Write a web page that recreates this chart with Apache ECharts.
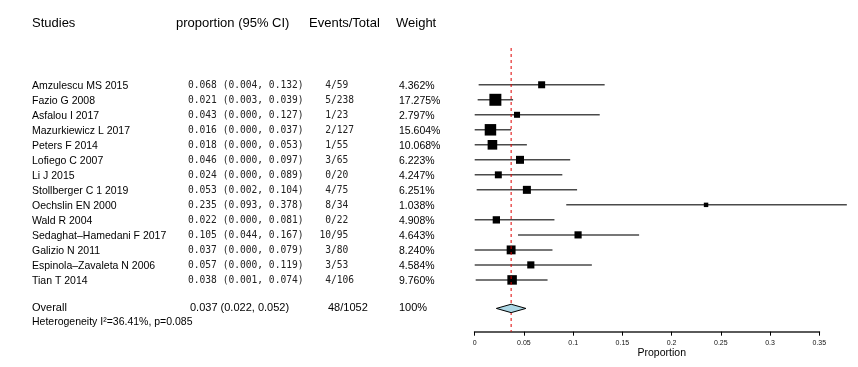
<!DOCTYPE html>
<html>
<head>
<meta charset="utf-8">
<script src="https://cdn.jsdelivr.net/npm/echarts@6/dist/echarts.min.js"></script>
<style>
  html, body { margin: 0; padding: 0; background: #ffffff; }
  #chart { width: 858px; height: 367px; }
</style>
</head>
<body>
<div id="chart"></div>
<script>
// Study-level results for the pooled proportion forest plot
const studies = [
  'Amzulescu MS 2015', 'Fazio G 2008', 'Asfalou I 2017', 'Mazurkiewicz L 2017',
  'Peters F 2014', 'Lofiego C 2007', 'Li J 2015', 'Stollberger C 1 2019',
  'Oechslin EN 2000', 'Wald R 2004', 'Sedaghat\u2013Hamedani F 2017', 'Galizio N 2011',
  'Espinola\u2013Zavaleta N 2006', 'Tian T 2014'
];
const proportion = [0.068, 0.021, 0.043, 0.016, 0.018, 0.046, 0.024, 0.053, 0.235, 0.022, 0.105, 0.037, 0.057, 0.038];
const ciLower    = [0.004, 0.003, 0.000, 0.000, 0.000, 0.000, 0.000, 0.002, 0.093, 0.000, 0.044, 0.000, 0.000, 0.001];
const ciUpper    = [0.132, 0.039, 0.127, 0.037, 0.053, 0.097, 0.089, 0.104, 0.378, 0.081, 0.167, 0.079, 0.119, 0.074];
const eventCounts = [4, 5, 1, 2, 1, 3, 0, 4, 8, 0, 10, 3, 3, 4];
const totals      = [59, 238, 23, 127, 55, 65, 20, 75, 34, 22, 95, 80, 53, 106];
const weights     = [4.362, 17.275, 2.797, 15.604, 10.068, 6.223, 4.247, 6.251, 1.038, 4.908, 4.643, 8.240, 4.584, 9.760];

// Pooled estimate and heterogeneity
const overallEstimate = [0.037];
const overallCI = [0.022, 0.052];
const overallCounts = [48, 1052];
const heterogeneity = ['36.41%', '0.085'];

// Axis tick values
const xTicks = [0, 0.05, 0.1, 0.15, 0.2, 0.25, 0.3, 0.35];

const chart = echarts.init(document.getElementById('chart'));

const SANS = '"Liberation Sans", Arial, sans-serif';
const MONO = '"DejaVu Sans Mono", monospace';
const COL = { name: 32, ci: 188, slash: 331, weight: 399 };
const overallRow = studies.length + 0.9;
const hetRow = studies.length + 1.8;

// Square side grows with the study weight
function boxSize(w) { return 2 + 2.4 * Math.sqrt(w); }

function txt(x, y, text, font, size, align, color) {
  return {
    type: 'text',
    style: {
      x: x, y: y, text: text,
      fontFamily: font, fontSize: size,
      fill: color || '#000',
      align: align || 'left', verticalAlign: 'middle'
    }
  };
}

function renderStudy(params, api) {
  const i = api.value(0);
  const p = api.value(1), lo = api.value(2), hi = api.value(3), w = api.value(4);
  const y = api.coord([0, i])[1];
  const xL = api.coord([lo, i])[0];
  const xR = api.coord([hi, i])[0];
  const xP = api.coord([p, i])[0];
  const s = boxSize(w);
  const ciText = p.toFixed(3) + ' (' + lo.toFixed(3) + ', ' + hi.toFixed(3) + ')';
  return {
    type: 'group',
    children: [
      { type: 'line', shape: { x1: xL, y1: y, x2: xR, y2: y }, style: { stroke: '#4a4a4a', lineWidth: 1.5 } },
      { type: 'rect', shape: { x: xP - s / 2, y: y - s / 2, width: s, height: s }, style: { fill: '#000' } },
      txt(COL.name, y + 1, studies[i], SANS, 10.5),
      txt(COL.ci, y + 1, ciText, MONO, 9.6, 'left', '#222'),
      txt(COL.slash, y + 1, String(eventCounts[i]), MONO, 9.6, 'right', '#222'),
      txt(COL.slash, y + 1, '/' + totals[i], MONO, 9.6, 'left', '#222'),
      txt(COL.weight, y + 1, w.toFixed(3) + '%', SANS, 10.5)
    ]
  };
}

function renderOverall(params, api) {
  const est = api.value(0), lo = api.value(1), hi = api.value(2);
  const c = api.coord([est, overallRow]);
  const l = api.coord([lo, overallRow]);
  const r = api.coord([hi, overallRow]);
  const h = 4.2;
  const top = api.coord([est, -2.45])[1];
  const bottom = api.coord([est, 16.45])[1];
  const yHet = api.coord([0, hetRow])[1];
  return {
    type: 'group',
    children: [
      { type: 'line', shape: { x1: c[0], y1: top, x2: c[0], y2: bottom },
        style: { stroke: '#e00000', lineWidth: 1, lineDash: [3, 3] } },
      { type: 'polygon', shape: { points: [[l[0], c[1]], [c[0], c[1] - h], [r[0], c[1]], [c[0], c[1] + h]] },
        style: { fill: '#add8e6', stroke: '#000', lineWidth: 1 } },
      txt(COL.name, c[1], 'Overall', SANS, 11),
      txt(190, c[1], est.toFixed(3) + ' (' + lo.toFixed(3) + ', ' + hi.toFixed(3) + ')', SANS, 11),
      txt(328, c[1], overallCounts[0] + '/' + overallCounts[1], SANS, 11),
      txt(COL.weight, c[1], '100%', SANS, 11),
      txt(COL.name, yHet, 'Heterogeneity I\u00b2=' + heterogeneity[0] + ', p=' + heterogeneity[1], SANS, 10.5)
    ]
  };
}

const headerFont = { fontFamily: SANS, fontSize: 13, fill: '#000' };

chart.setOption({
  animation: false,
  backgroundColor: '#ffffff',
  grid: [
    { left: 474.7, right: 9.2, top: 48, bottom: 35.3, containLabel: false, outerBoundsMode: 'none' },
    { left: 474.7, width: 344.6, top: 300, bottom: 35.3, containLabel: false, outerBoundsMode: 'none' }
  ],
  xAxis: [
    {
      gridIndex: 0, type: 'value', min: 0, max: 0.38,
      axisLine: { show: false }, axisTick: { show: false }, axisLabel: { show: false }, splitLine: { show: false },
      name: 'Proportion', nameLocation: 'middle', nameGap: 16,
      nameTextStyle: { fontFamily: SANS, fontSize: 10.5, color: '#000' }
    },
    {
      gridIndex: 1, type: 'value', min: 0, max: 0.35, interval: 0.05,
      axisLine: { show: true, lineStyle: { color: '#5a5a5a', width: 1.8 } },
      axisTick: { show: true, length: 4, lineStyle: { color: '#000', width: 1 } },
      axisLabel: {
        margin: 8, fontFamily: SANS, fontSize: 7, color: '#111',
        formatter: function (v) {
          const t = xTicks.find(function (k) { return Math.abs(k - v) < 1e-9; });
          return t === undefined ? '' : String(t);
        }
      },
      splitLine: { show: false }
    }
  ],
  yAxis: [
    { gridIndex: 0, type: 'value', min: -2.45, max: 16.45, inverse: true, show: false },
    { gridIndex: 1, type: 'value', min: 0, max: 1, show: false }
  ],
  graphic: [
    { type: 'text', left: 32, top: 17, style: Object.assign({ text: 'Studies' }, headerFont) },
    { type: 'text', left: 176, top: 17, style: Object.assign({ text: 'proportion (95% CI)' }, headerFont) },
    { type: 'text', left: 309, top: 17, style: Object.assign({ text: 'Events/Total' }, headerFont) },
    { type: 'text', left: 396, top: 17, style: Object.assign({ text: 'Weight' }, headerFont) }
  ],
  series: [
    {
      type: 'custom', xAxisIndex: 0, yAxisIndex: 0, clip: false, silent: true,
      renderItem: renderStudy,
      encode: { x: [1, 2, 3], y: 0 },
      data: studies.map(function (_, i) { return [i, proportion[i], ciLower[i], ciUpper[i], weights[i]]; })
    },
    {
      type: 'custom', xAxisIndex: 0, yAxisIndex: 0, clip: false, silent: true,
      renderItem: renderOverall,
      encode: { x: [0, 1, 2] },
      data: [[overallEstimate[0], overallCI[0], overallCI[1]]]
    },
    {
      type: 'scatter', xAxisIndex: 1, yAxisIndex: 1, data: [], silent: true
    }
  ]
});
</script>
</body>
</html>
